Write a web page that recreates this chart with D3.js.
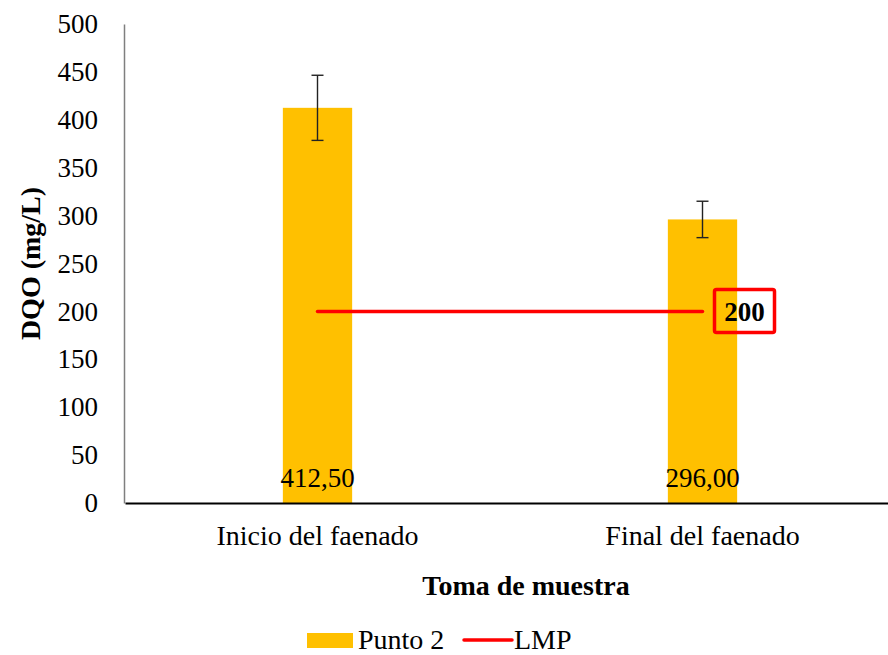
<!DOCTYPE html>
<html>
<head>
<meta charset="utf-8">
<script src="https://cdn.jsdelivr.net/npm/d3@7"></script>
<style>
  body { margin: 0; background: #fff; }
  svg text { font-family: "Times New Roman", Times, "Liberation Serif", serif; fill: #000; }
</style>
</head>
<body>
<div id="chart"></div>
<script>
const categories = ['Inicio del faenado', 'Final del faenado']
const values = [412.5, 296.0]
const errors = [34, 19]
const valueLabels = ['412,50', '296,00']
const lmpValue = 200
const yTicks = [0, 50, 100, 150, 200, 250, 300, 350, 400, 450, 500]

const serif = '"Times New Roman", Times, "Liberation Serif", serif'
const width = 888
const height = 655

const svg = d3.select('#chart')
  .append('svg')
  .attr('width', width)
  .attr('height', height)
  .style('font-family', serif)

const x = d3.scaleBand()
  .domain(categories)
  .range([125, 895])
  .padding(0)

const y = d3.scaleLinear()
  .domain([0, 500])
  .range([503, 24])

const barWidth = x.bandwidth() * 0.18
const cx = d => x(d) + x.bandwidth() / 2

// y axis: line + labels, no tick marks
const yAxis = svg.append('g')
  .attr('transform', 'translate(124,0)')
  .call(d3.axisLeft(y).tickValues(yTicks).tickSize(0).tickPadding(26).tickFormat(d3.format('d')))
  .attr('font-family', serif)
  .attr('font-size', 27)
yAxis.select('.domain').attr('stroke', '#7f7f7f').attr('stroke-width', 1.5)
yAxis.selectAll('text').attr('fill', '#000')

// bars
svg.append('g').selectAll('rect')
  .data(categories)
  .join('rect')
  .attr('x', d => cx(d) - barWidth / 2)
  .attr('width', barWidth)
  .attr('y', (d, i) => y(values[i]))
  .attr('height', (d, i) => y(0) - y(values[i]))
  .attr('fill', '#FFC000')

// error bars
const err = svg.append('g').attr('stroke', '#222').attr('stroke-width', 1.4)
categories.forEach((c, i) => {
  const hi = y(values[i] + errors[i])
  const lo = y(values[i] - errors[i])
  err.append('line').attr('x1', cx(c)).attr('x2', cx(c)).attr('y1', hi).attr('y2', lo)
  err.append('line').attr('x1', cx(c) - 6).attr('x2', cx(c) + 6).attr('y1', hi).attr('y2', hi)
  err.append('line').attr('x1', cx(c) - 6).attr('x2', cx(c) + 6).attr('y1', lo).attr('y2', lo)
})

// baseline (x axis)
const xAxis = svg.append('g')
  .attr('transform', `translate(0,${y(0)})`)
  .call(d3.axisBottom(x).tickSize(0).tickPadding(22))
  .attr('font-family', serif)
  .attr('font-size', 28)
xAxis.select('.domain').attr('stroke', '#000').attr('stroke-width', 2.2)
xAxis.selectAll('text').attr('fill', '#000')

// value labels at base of bars
svg.append('g').selectAll('text')
  .data(categories)
  .join('text')
  .attr('x', d => cx(d))
  .attr('y', y(0) - 16)
  .attr('text-anchor', 'middle')
  .attr('font-size', 27)
  .text((d, i) => valueLabels[i])

// LMP line
svg.append('line')
  .attr('x1', cx(categories[0]))
  .attr('x2', cx(categories[1]))
  .attr('y1', y(lmpValue))
  .attr('y2', y(lmpValue))
  .attr('stroke', '#FF0000')
  .attr('stroke-width', 3.5)
  .attr('stroke-linecap', 'round')

// LMP value callout
const boxX = cx(categories[1]) + 12
svg.append('rect')
  .attr('x', boxX)
  .attr('y', y(lmpValue) - 22)
  .attr('width', 60)
  .attr('height', 43)
  .attr('rx', 2)
  .attr('fill', 'none')
  .attr('stroke', '#FF0000')
  .attr('stroke-width', 3.5)
svg.append('text')
  .attr('x', boxX + 30)
  .attr('y', y(lmpValue) + 10)
  .attr('text-anchor', 'middle')
  .attr('font-size', 27)
  .attr('font-weight', 'bold')
  .text(lmpValue)

// axis titles
svg.append('text')
  .attr('transform', `translate(40,${(y(0) + y(500)) / 2}) rotate(-90)`)
  .attr('text-anchor', 'middle')
  .attr('font-size', 28)
  .attr('font-weight', 'bold')
  .text('DQO (mg/L)')

svg.append('text')
  .attr('x', 526)
  .attr('y', 595)
  .attr('text-anchor', 'middle')
  .attr('font-size', 28)
  .attr('font-weight', 'bold')
  .text('Toma de muestra')

// legend
const legend = svg.append('g').attr('transform', 'translate(307,640)')
legend.append('rect').attr('x', 0).attr('y', -7).attr('width', 46).attr('height', 15).attr('fill', '#FFC000')
legend.append('text').attr('x', 51).attr('y', 9).attr('font-size', 28).text('Punto 2')
legend.append('line').attr('x1', 157).attr('x2', 205).attr('y1', 0).attr('y2', 0)
  .attr('stroke', '#FF0000').attr('stroke-width', 3.5).attr('stroke-linecap', 'round')
legend.append('text').attr('x', 207).attr('y', 9).attr('font-size', 28).text('LMP')
</script>
</body>
</html>
